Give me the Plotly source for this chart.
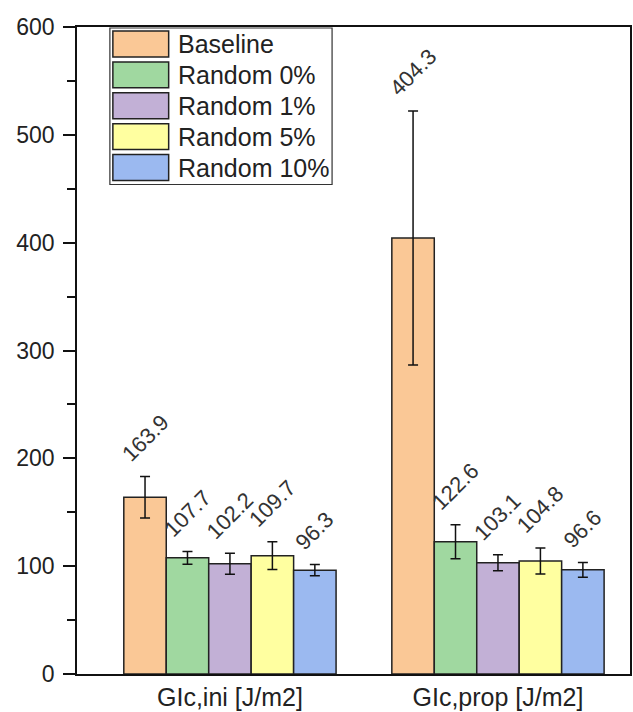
import plotly.graph_objects as go

# ---- data ----
categories = ["GIc,ini [J/m2]", "GIc,prop [J/m2]"]
series_names = ["Baseline", "Random 0%", "Random 1%", "Random 5%", "Random 10%"]
baseline = [163.9, 404.3]
random_0 = [107.7, 122.6]
random_1 = [102.2, 103.1]
random_5 = [109.7, 104.8]
random_10 = [96.3, 96.6]
baseline_err = [19.3, 117.8]
random_0_err = [6.0, 15.8]
random_1_err = [9.8, 7.4]
random_5_err = [12.9, 12.0]
random_10_err = [5.2, 6.9]

series_values = [baseline, random_0, random_1, random_5, random_10]
series_errors = [baseline_err, random_0_err, random_1_err, random_5_err, random_10_err]
colors = ["#FAC896", "#A0D8A0", "#C2B0D6", "#FFFFA0", "#9BB9F0"]

W, H = 633, 712
ML, MR, MT, MB = 77, 1, 27, 36
BARGAP = 0.208
FONT = "Liberation Sans, Arial, sans-serif"
TXT = "#222222"

x_pos = list(range(len(categories)))
fig = go.Figure()
for name, vals, errs, col in zip(series_names, series_values, series_errors, colors):
    fig.add_trace(go.Bar(
        x=x_pos, y=vals, name=name,
        marker=dict(color=col, line=dict(color="#222222", width=1.5)),
        error_y=dict(type="data", array=errs, color="#111111", thickness=1.5, width=5),
        showlegend=False,
    ))

# rotated value labels above each error bar
n = len(series_names)
bw = (1 - BARGAP) / n
annotations = []
for j, (vals, errs) in enumerate(zip(series_values, series_errors)):
    for i, (v, e) in enumerate(zip(vals, errs)):
        annotations.append(dict(
            x=i + (j - (n - 1) / 2) * bw, y=v + e, xref="x", yref="y",
            text=f"{v:.1f}", showarrow=False, textangle=-45,
            xanchor="center", yanchor="bottom", yshift=7,
            font=dict(family=FONT, size=22, color="#333333"),
        ))

# legend drawn as a framed box with large swatches
pw, ph = W - ML - MR, H - MT - MB
def px_x(p):
    return (p - ML) / pw
def px_y(p):
    return (H - MB - p) / ph

shapes = [dict(type="rect", xref="paper", yref="paper",
               x0=px_x(110), x1=px_x(333), y0=px_y(185), y1=px_y(28),
               line=dict(color="#333333", width=1.2), fillcolor="white", layer="above")]
for k, (name, col) in enumerate(zip(series_names, colors)):
    top = 31 + 31 * k
    shapes.append(dict(type="rect", xref="paper", yref="paper",
                       x0=px_x(113), x1=px_x(169), y0=px_y(top + 26), y1=px_y(top),
                       line=dict(color="#222222", width=1.5), fillcolor=col, layer="above"))
    annotations.append(dict(xref="paper", yref="paper", x=px_x(176), y=px_y(top + 13),
                            text=name, showarrow=False, xanchor="left", yanchor="middle",
                            font=dict(family=FONT, size=25, color=TXT)))

fig.update_layout(
    width=W, height=H,
    margin=dict(l=ML, r=MR, t=MT, b=MB),
    paper_bgcolor="white", plot_bgcolor="white",
    barmode="group", bargap=BARGAP, bargroupgap=0,
    font=dict(family=FONT, color=TXT),
    shapes=shapes, annotations=annotations,
    showlegend=False,
)
fig.update_xaxes(
    range=[-0.5706, 1.4926], tickvals=x_pos, ticktext=categories,
    showline=True, linecolor="#111111", linewidth=1.6, mirror=True,
    ticks="", showgrid=False, zeroline=False,
    tickfont=dict(family=FONT, size=25, color=TXT),
)
fig.update_yaxes(
    range=[0, 600], dtick=100, tick0=0,
    showline=True, linecolor="#111111", linewidth=1.6, mirror=True,
    ticks="outside", ticklen=12, tickwidth=1.6, tickcolor="#111111",
    minor=dict(dtick=50, ticks="outside", ticklen=8, tickwidth=1.6, tickcolor="#111111"),
    showgrid=False, zeroline=False, ticklabelstandoff=4,
    tickfont=dict(family=FONT, size=23, color=TXT),
)

fig.write_html("out.html")
